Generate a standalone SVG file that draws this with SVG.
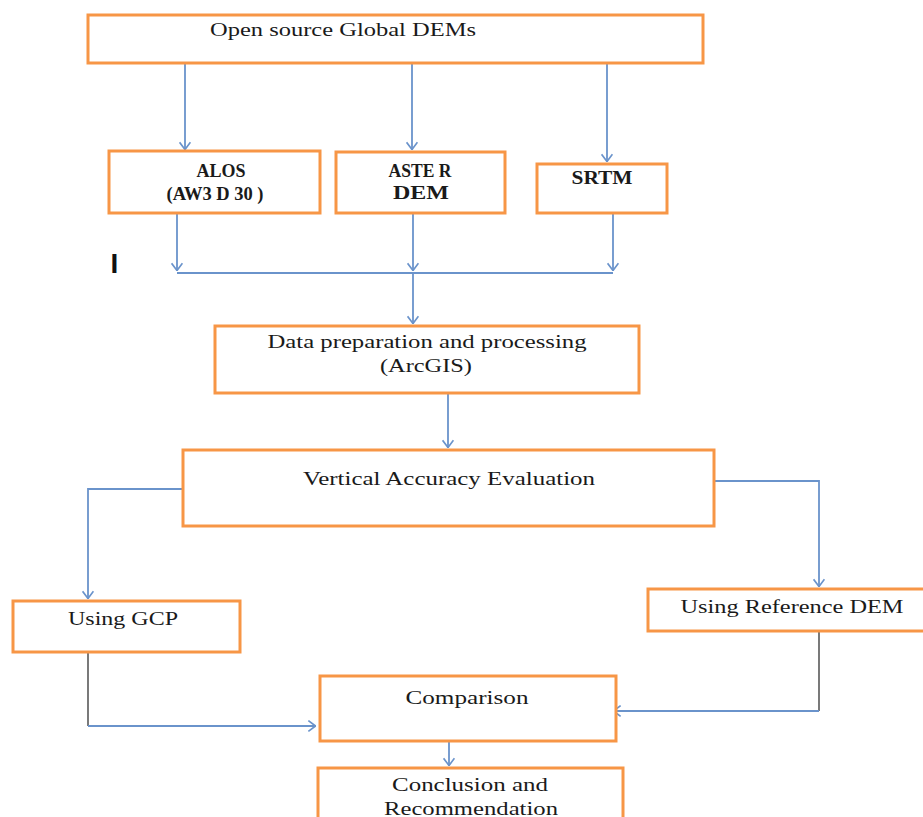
<svg xmlns="http://www.w3.org/2000/svg" width="923" height="817" viewBox="0 0 923 817">
<style>
.box{fill:#fff;stroke:#F79646;stroke-width:3}
.t{font-family:"Liberation Serif","Times New Roman",serif;font-size:19px;fill:#1a1a1a;text-anchor:middle}
.b{font-weight:bold}
.c{fill:none;stroke:#6A93CB;stroke-width:1.8}
.g{fill:none;stroke:#6b6b6b;stroke-width:1.8}
</style>
<defs>
<marker id="arr" viewBox="0 0 10 14" refX="9.5" refY="7" markerWidth="9" markerHeight="13" markerUnits="userSpaceOnUse" orient="auto">
<path d="M1,1 L9,7 L1,13" fill="none" stroke="#6A93CB" stroke-width="1.8"/>
</marker>
</defs>
<rect width="923" height="817" fill="#fff"/>
<g id="connectors">
<path class="c" d="M185,63 V150" marker-end="url(#arr)"/>
<path class="c" d="M412,63 V150" marker-end="url(#arr)"/>
<path class="c" d="M607,63 V162" marker-end="url(#arr)"/>
<path class="c" d="M177,213 V271" marker-end="url(#arr)"/>
<path class="c" d="M413,213 V271" marker-end="url(#arr)"/>
<path class="c" d="M613,213 V271" marker-end="url(#arr)"/>
<path class="c" d="M177,273 H613"/>
<path class="c" d="M413,273 V324" marker-end="url(#arr)"/>
<path class="c" d="M448,393 V448" marker-end="url(#arr)"/>
<path class="c" d="M183,489 H88 V599" marker-end="url(#arr)"/>
<path class="c" d="M714,481 H819 V587" marker-end="url(#arr)"/>
<path class="g" d="M88,652 V726"/>
<path class="c" d="M88,726 H316" marker-end="url(#arr)"/>
<path class="g" d="M819,631 V711"/>
<path class="c" d="M819,711 H613" marker-end="url(#arr)"/>
<path class="c" d="M449,741 V766" marker-end="url(#arr)"/>
</g>
<g id="open-source">
<rect class="box" x="88" y="15" width="615" height="48"/>
<text class="t" x="343" y="36" textLength="266" lengthAdjust="spacingAndGlyphs">Open source Global DEMs</text>
</g>
<g id="alos">
<rect class="box" x="109" y="151" width="211" height="62"/>
<text class="t b" x="221" y="177" textLength="49" lengthAdjust="spacingAndGlyphs">ALOS</text>
<text class="t b" x="215" y="200" textLength="97" lengthAdjust="spacingAndGlyphs">(AW3 D 30 )</text>
</g>
<g id="aster">
<rect class="box" x="336" y="152" width="169" height="61"/>
<text class="t b" x="420" y="177" textLength="63" lengthAdjust="spacingAndGlyphs">ASTE R</text>
<text class="t b" x="421" y="199" textLength="56" lengthAdjust="spacingAndGlyphs">DEM</text>
</g>
<g id="srtm">
<rect class="box" x="537" y="164" width="130" height="49"/>
<text class="t b" x="602" y="184" textLength="61" lengthAdjust="spacingAndGlyphs">SRTM</text>
</g>
<g id="mark">
<text x="114.5" y="273" font-family="Liberation Sans, Arial, sans-serif" font-weight="bold" font-size="28" text-anchor="middle" fill="#111">I</text>
</g>
<g id="data-prep">
<rect class="box" x="215" y="326" width="424" height="67"/>
<text class="t" x="427" y="348" textLength="319" lengthAdjust="spacingAndGlyphs">Data preparation and processing</text>
<text class="t" x="426" y="372" textLength="92" lengthAdjust="spacingAndGlyphs">(ArcGIS)</text>
</g>
<g id="vae">
<rect class="box" x="183" y="450" width="531" height="76"/>
<text class="t" x="449" y="485" textLength="292" lengthAdjust="spacingAndGlyphs">Vertical Accuracy Evaluation</text>
</g>
<g id="gcp">
<rect class="box" x="13" y="601" width="227" height="51"/>
<text class="t" x="123" y="625" textLength="110" lengthAdjust="spacingAndGlyphs">Using GCP</text>
</g>
<g id="refdem">
<rect class="box" x="648" y="589" width="280" height="42"/>
<text class="t" x="792" y="613" textLength="223" lengthAdjust="spacingAndGlyphs">Using Reference DEM</text>
</g>
<g id="comparison">
<rect class="box" x="320" y="676" width="296" height="65"/>
<text class="t" x="467" y="704" textLength="123" lengthAdjust="spacingAndGlyphs">Comparison</text>
</g>
<g id="conclusion">
<rect class="box" x="318" y="768" width="305" height="60"/>
<text class="t" x="470" y="791" textLength="156" lengthAdjust="spacingAndGlyphs">Conclusion and</text>
<text class="t" x="471" y="815" textLength="174" lengthAdjust="spacingAndGlyphs">Recommendation</text>
</g>
</svg>
